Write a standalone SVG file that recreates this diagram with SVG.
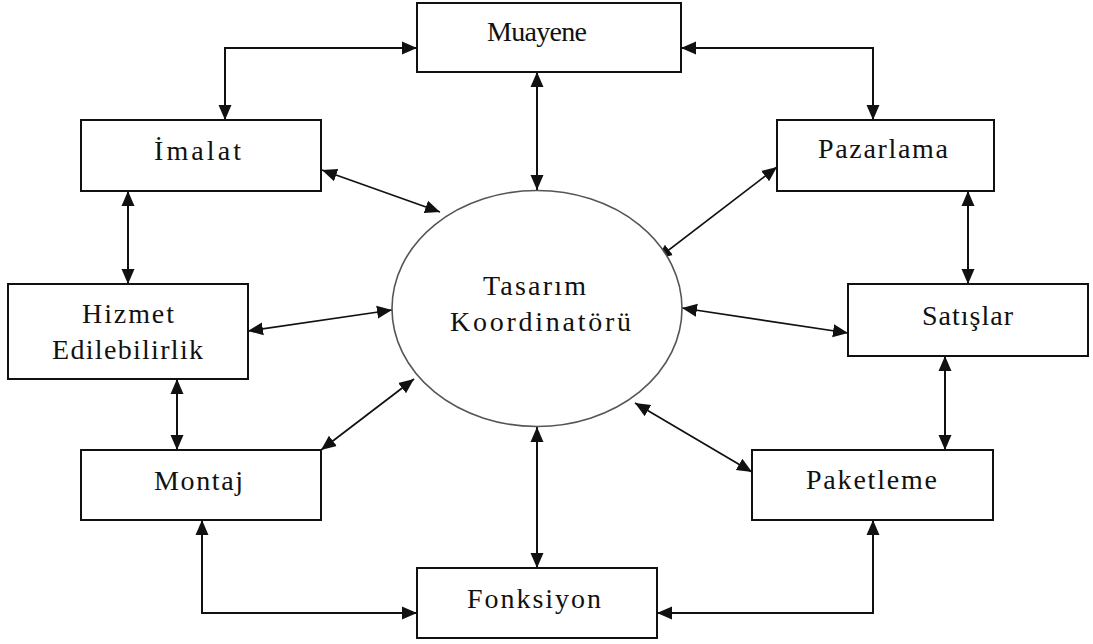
<svg xmlns="http://www.w3.org/2000/svg" width="1093" height="644" viewBox="0 0 1093 644">
  <style>
    .box { fill: #ffffff; stroke: #111111; stroke-width: 2; }
    .hub { fill: #ffffff; stroke: #555555; stroke-width: 1.6; }
    .lbl { font-family: 'Liberation Serif', 'DejaVu Serif', serif; font-size: 28px; fill: #111111; }
    .link { fill: none; stroke: #111111; stroke-width: 2; marker-start: url(#head); marker-end: url(#head); }
    .diag { stroke-width: 1.7; }
  </style>
  <defs>
    <marker id="head" markerUnits="userSpaceOnUse" markerWidth="17" markerHeight="15" refX="15" refY="7" orient="auto-start-reverse" viewBox="0 0 17 15">
      <path d="M0,0.5 L15,7 L0,13.5 Z" fill="#111111"/>
    </marker>
  </defs>
  <rect width="1093" height="644" fill="#ffffff"/>

  <g id="connectors">
    <path class="link" d="M417,48 H225 V120"/>
    <path class="link" d="M681,48 H873 V120"/>
    <path class="link" d="M537,72 V190"/>
    <path class="link" d="M128,191 V284"/>
    <path class="link" d="M968,191 V284"/>
    <path class="link diag" d="M322,170 L440,212"/>
    <path class="link diag" d="M777,167 L657,259"/>
    <path class="link diag" d="M248,331 L392,310"/>
    <path class="link diag" d="M848,333 L682,308"/>
    <path class="link" d="M177,379 V450"/>
    <path class="link" d="M945,356 V450"/>
    <path class="link diag" d="M321,450 L414,379"/>
    <path class="link diag" d="M752,472 L635,403"/>
    <path class="link" d="M537,427 V568"/>
    <path class="link" d="M202,520 V613 H417"/>
    <path class="link" d="M873,520 V613 H657"/>
  </g>

  <g id="tasarim-koordinatoru">
    <ellipse class="hub" cx="537" cy="308.5" rx="145" ry="118"/>
    <text class="lbl" x="483" y="295" textLength="103" lengthAdjust="spacing">Tasarım</text>
    <text class="lbl" x="450" y="331" textLength="181" lengthAdjust="spacing">Koordinatörü</text>
  </g>

  <g id="muayene">
    <rect class="box" x="417" y="3" width="264" height="69"/>
    <text class="lbl" x="487" y="41" textLength="100" lengthAdjust="spacing">Muayene</text>
  </g>

  <g id="imalat">
    <rect class="box" x="81" y="120" width="240" height="71"/>
    <text class="lbl" x="154" y="160" textLength="87" lengthAdjust="spacing">İmalat</text>
  </g>

  <g id="pazarlama">
    <rect class="box" x="777" y="120" width="217" height="71"/>
    <text class="lbl" x="818" y="158" textLength="130" lengthAdjust="spacing">Pazarlama</text>
  </g>

  <g id="hizmet-edilebilirlik">
    <rect class="box" x="8" y="284" width="240" height="95"/>
    <text class="lbl" x="82" y="323" textLength="92" lengthAdjust="spacing">Hizmet</text>
    <text class="lbl" x="52" y="359" textLength="151" lengthAdjust="spacing">Edilebilirlik</text>
  </g>

  <g id="satislar">
    <rect class="box" x="848" y="284" width="240" height="72"/>
    <text class="lbl" x="922" y="325" textLength="91" lengthAdjust="spacing">Satışlar</text>
  </g>

  <g id="montaj">
    <rect class="box" x="81" y="450" width="240" height="70"/>
    <text class="lbl" x="154" y="490" textLength="89" lengthAdjust="spacing">Montaj</text>
  </g>

  <g id="paketleme">
    <rect class="box" x="752" y="450" width="241" height="70"/>
    <text class="lbl" x="806" y="489" textLength="131" lengthAdjust="spacing">Paketleme</text>
  </g>

  <g id="fonksiyon">
    <rect class="box" x="417" y="568" width="240" height="70"/>
    <text class="lbl" x="467" y="608" textLength="134" lengthAdjust="spacing">Fonksiyon</text>
  </g>
</svg>
